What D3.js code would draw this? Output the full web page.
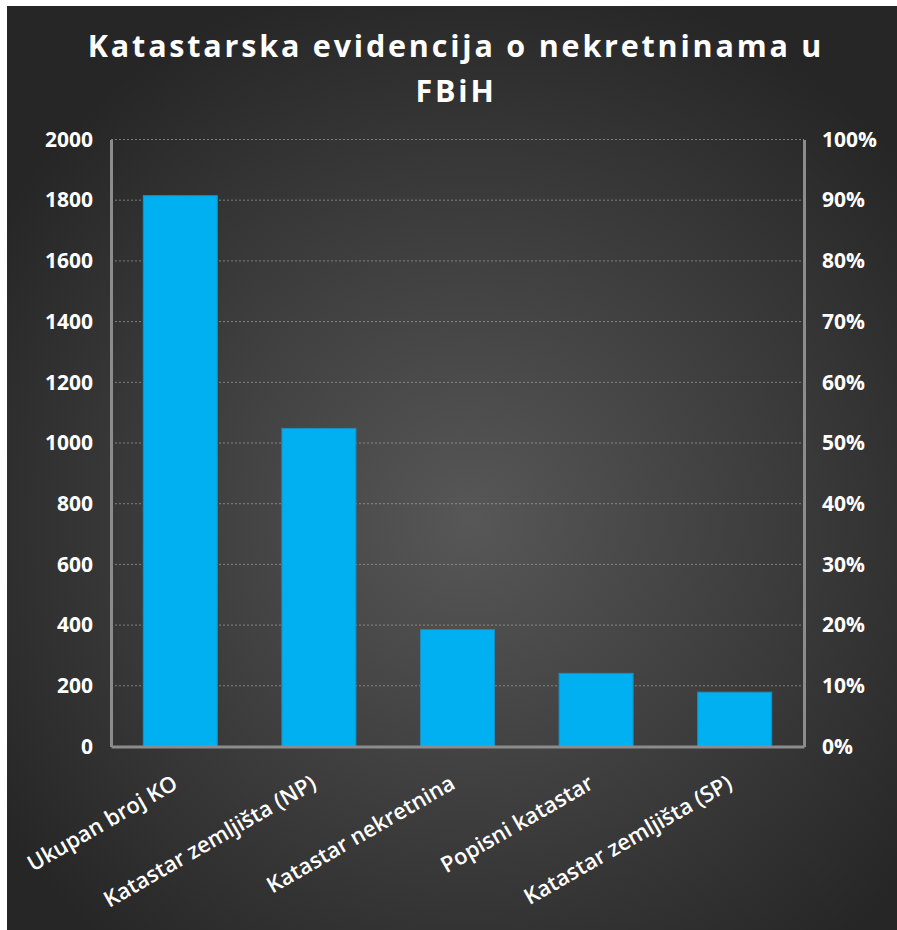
<!DOCTYPE html>
<meta charset="utf-8">
<style>
body { margin: 0; background: #fff; }
text { font-family: "Open Sans", "DejaVu Sans", sans-serif; fill: #fff; }
.grid line { stroke: #b0b0b0; stroke-opacity: 0.6; stroke-dasharray: 2,2; }
.axis path, .axis line { stroke: #8c8c8c; }
</style>
<svg width="897" height="930"></svg>
<script src="https://d3js.org/d3.v7.min.js"></script>
<script>

var categories = ["Ukupan broj KO", "Katastar zemljišta (NP)", "Katastar nekretnina", "Popisni katastar", "Katastar zemljišta (SP)"];
var values = [1815, 1048, 385, 241, 179];
var leftTicks = [0, 200, 400, 600, 800, 1000, 1200, 1400, 1600, 1800, 2000];
var rightTicks = [0, 0.1, 0.2, 0.3, 0.4, 0.5, 0.6, 0.7, 0.8, 0.9, 1];
var titleLines = ["Katastarska evidencija o nekretninama u", "FBiH"];

var svg = d3.select("svg"),
    width = +svg.attr("width"),
    height = +svg.attr("height");

var margin = {top: 139.5, right: 93, bottom: 183.5, left: 111};

var defs = svg.append("defs");
var grad = defs.append("radialGradient")
    .attr("id", "bg")
    .attr("gradientUnits", "userSpaceOnUse")
    .attr("cx", 470).attr("cy", 520).attr("r", 560);
grad.append("stop").attr("offset", "0%").attr("stop-color", "#575757");
grad.append("stop").attr("offset", "100%").attr("stop-color", "#262626");

svg.append("rect")
    .attr("x", 7).attr("y", 6)
    .attr("width", width - 7).attr("height", height - 6)
    .attr("fill", "url(#bg)");

var x = d3.scaleBand()
    .domain(categories)
    .range([margin.left, width - margin.right])
    .paddingInner(0.466)
    .paddingOuter(0.233);

var y = d3.scaleLinear()
    .domain([0, 2000])
    .range([height - margin.bottom, margin.top]);

var y2 = d3.scaleLinear()
    .domain([0, 1])
    .range([height - margin.bottom, margin.top]);

// gridlines
svg.append("g")
    .attr("class", "grid")
  .selectAll("line")
  .data(leftTicks.slice(1))
  .enter().append("line")
    .attr("x1", margin.left)
    .attr("x2", width - margin.right)
    .attr("y1", function(d) { return y(d); })
    .attr("y2", function(d) { return y(d); });

// bars
svg.append("g")
  .selectAll("rect")
  .data(values)
  .enter().append("rect")
    .attr("x", function(d, i) { return x(categories[i]); })
    .attr("y", function(d) { return y(d); })
    .attr("width", x.bandwidth())
    .attr("height", function(d) { return y(0) - y(d); })
    .attr("fill", "#00b0f0")
    .attr("stroke", "#1b8fbf")
    .attr("stroke-width", 1);

// axes
svg.append("g")
    .attr("class", "axis")
    .attr("transform", "translate(" + margin.left + ",0)")
    .call(d3.axisLeft(y).tickValues(leftTicks).tickSize(0).tickPadding(18).tickFormat(d3.format("d")));

svg.append("g")
    .attr("class", "axis")
    .attr("transform", "translate(" + (width - margin.right) + ",0)")
    .call(d3.axisRight(y2).tickValues(rightTicks).tickSize(0).tickPadding(18).tickFormat(d3.format(".0%")));

svg.append("g")
    .attr("class", "axis")
    .attr("transform", "translate(0," + (height - margin.bottom) + ")")
    .call(d3.axisBottom(x).tickSize(0).tickPadding(0).tickFormat(""));

svg.selectAll(".axis path")
    .attr("stroke-width", 3);
svg.selectAll(".axis .tick text")
    .style("font-size", "21px")
    .style("font-weight", "bold")
    .attr("fill", "#fff");

// rotated category labels
svg.append("g")
  .selectAll("text")
  .data(categories)
  .enter().append("text")
    .attr("transform", function(d) {
      return "translate(" + (x(d) + x.bandwidth() / 2 - 1) + "," + (height - margin.bottom + 41) + ") rotate(-30)";
    })
    .attr("text-anchor", "end")
    .style("font-size", "22px")
    .style("font-weight", "600")
    .text(function(d) { return d; });

// title
svg.append("g")
  .selectAll("text")
  .data(titleLines)
  .enter().append("text")
    .attr("x", 456)
    .attr("y", function(d, i) { return 57 + i * 45; })
    .attr("text-anchor", "middle")
    .style("font-size", "30.5px")
    .style("font-weight", "bold")
    .style("letter-spacing", "2.8px")
    .text(function(d) { return d; });

</script>
